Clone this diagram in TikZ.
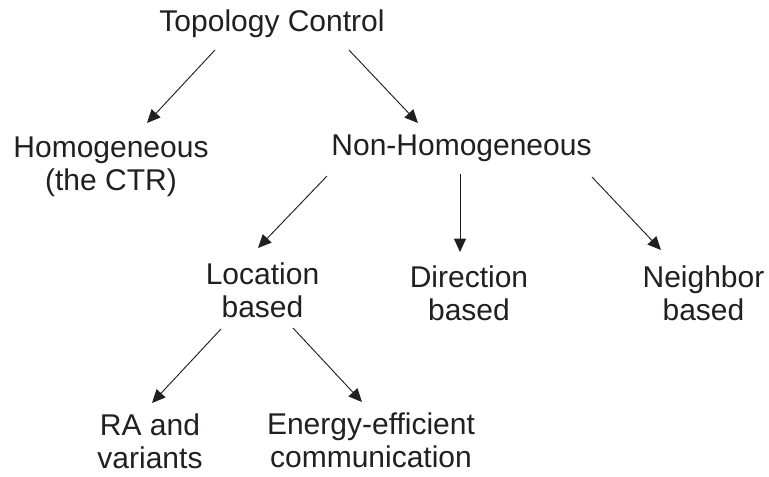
\documentclass[tikz,border=0pt]{standalone}
\usepackage{fontspec}
\setmainfont{Liberation Sans}
\usetikzlibrary{arrows.meta}
\definecolor{ink}{HTML}{231F20}
\begin{document}
\begin{tikzpicture}[x=0.75pt,y=-0.75pt,
  lbl/.style={anchor=base, align=center, inner sep=0pt, text=ink,
    font=\fontsize{22.5pt}{24.75pt}\selectfont},
  arr/.style={draw=ink, line width=0.7pt, -{Triangle[length=10pt,width=9pt]}}]
\useasboundingbox (0,0) rectangle (769,476);
\node[lbl] (tc)   at (272,31)    {Topology Control};
\node[lbl] (hom)  at (111,190.5) {Homogeneous\\(the CTR)};
\node[lbl] (nonh) at (461.5,155) {Non-Homogeneous};
\node[lbl] (loc)  at (262.5,317) {Location\\based};
\node[lbl] (dir)  at (469,320)   {Direction\\based};
\node[lbl] (nei)  at (703.5,320) {Neighbor\\based};
\node[lbl] (ra)   at (150,468)   {RA and\\variants};
\node[lbl] (ee)   at (371,467)   {Energy-efficient\\communication};
\coordinate (a1s) at (215,50);  \coordinate (a1e) at (147,123);
\coordinate (a2s) at (349,50);  \coordinate (a2e) at (418,123);
\coordinate (a3s) at (327,176); \coordinate (a3e) at (258,248);
\coordinate (a4s) at (460,174); \coordinate (a4e) at (460,252);
\coordinate (a5s) at (592,177); \coordinate (a5e) at (661,250);
\coordinate (a6s) at (221,329); \coordinate (a6e) at (152,403);
\coordinate (a7s) at (293,328); \coordinate (a7e) at (362,402);
\draw[arr] (a1s) -- (a1e);
\draw[arr] (a2s) -- (a2e);
\draw[arr] (a3s) -- (a3e);
\draw[arr] (a4s) -- (a4e);
\draw[arr] (a5s) -- (a5e);
\draw[arr] (a6s) -- (a6e);
\draw[arr] (a7s) -- (a7e);
\end{tikzpicture}
\end{document}
